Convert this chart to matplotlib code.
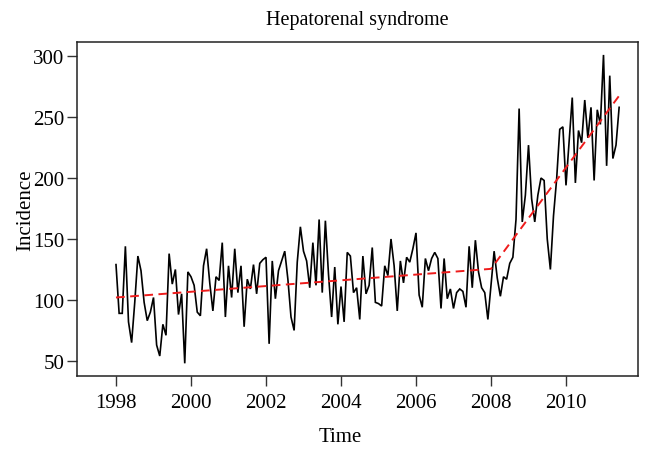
import numpy as np
import matplotlib
matplotlib.use("Agg")
import matplotlib.pyplot as plt

# Monthly incidence, Jan 1998 .. Jun 2011
start_year = 1998
incidence = [
    129, 89, 89, 144, 82, 65, 98, 136, 124, 98, 83, 90,
    102, 63, 54, 80, 71, 138, 113, 125, 88, 105, 48, 123,
    119, 112, 90, 87, 128, 142, 114, 91, 119, 116, 147, 86,
    128, 102, 142, 106, 128, 78, 117, 109, 129, 105, 130, 133,
    135, 64, 132, 101, 124, 132, 140, 117, 86, 75, 131, 160,
    140, 132, 110, 147, 112, 166, 106, 165, 121, 86, 127, 80,
    111, 82, 139, 136, 106, 110, 84, 136, 105, 112, 143, 98,
    97, 95, 128, 120, 150, 128, 91, 132, 114, 135, 131, 142,
    155, 104, 94, 134, 124, 134, 139, 134, 93, 134, 101, 109,
    93, 106, 109, 107, 94, 144, 110, 149, 123, 110, 106, 84,
    112, 140, 118, 103, 119, 117, 130, 135, 166, 257, 164, 186,
    227, 183, 164, 186, 200, 198, 150, 125, 169, 199, 240, 242,
    194, 230, 266, 196, 239, 229, 264, 233, 258, 198, 256, 244,
    301, 210, 284, 216, 227, 258,
]

# Segmented trend (knot years and fitted values)
trend_years = [1998.0, 2008.0, 2011.417]
trend_values = [102, 125.5, 267.5]

x_ticks = [1998, 2000, 2002, 2004, 2006, 2008, 2010]
y_ticks = [50, 100, 150, 200, 250, 300]

time = start_year + np.arange(len(incidence)) / 12.0

plt.rcParams['font.family'] = ['Liberation Serif', 'DejaVu Serif']

fig = plt.figure(figsize=(6.53, 4.56), dpi=100)
ax = fig.add_axes([77/653, 1 - 377/456, (638 - 77)/653, (377 - 43)/456])

ax.plot(time, incidence, color='black', lw=1.2, solid_joinstyle='miter')
ax.plot(trend_years, trend_values, color='#ee1c1c', lw=1.4, dashes=(4.5, 2.8))

ax.set_xlim(1996.96, 2011.92)
ax.set_ylim(37.6, 311.6)
ax.set_xticks(x_ticks)
ax.set_yticks(y_ticks)
ax.tick_params(direction='out', length=7, width=1, labelsize=15, color='#333333')
ax.tick_params(axis='y', pad=2)
ax.tick_params(axis='x', pad=5)
for s in ax.spines.values():
    s.set_linewidth(1.1)
    s.set_color('#222222')

ax.set_title('Hepatorenal syndrome', fontsize=14.5, pad=13)
ax.set_xlabel('Time', fontsize=15)
ax.set_ylabel('Incidence', fontsize=15)
ax.xaxis.set_label_coords((340 - 77) / 561, -(428 - 377) / 334)
ax.yaxis.set_label_coords(-(77 - 35) / 561, 0.5)

fig.savefig('out.png', dpi=100)
